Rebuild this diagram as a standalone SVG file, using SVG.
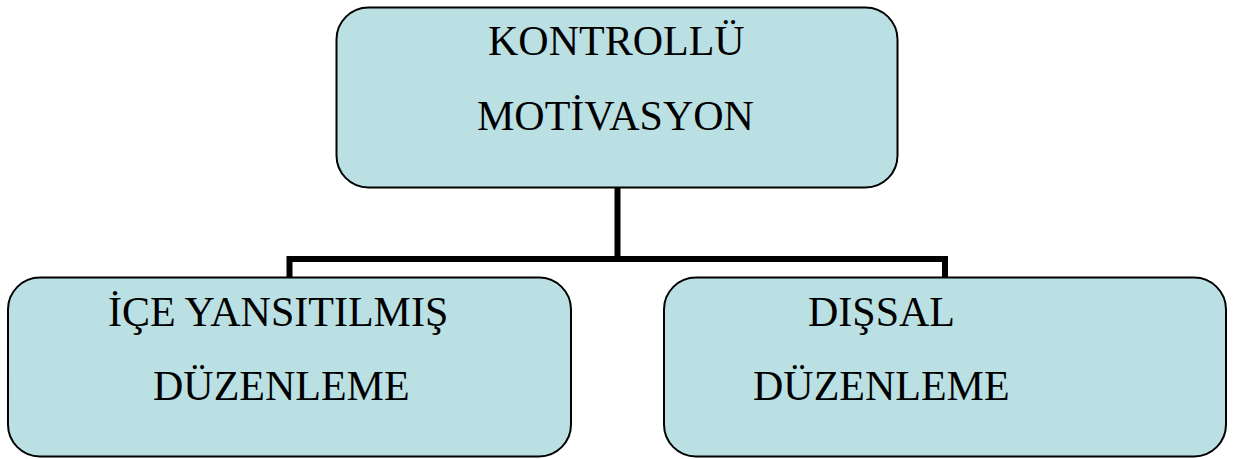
<svg xmlns="http://www.w3.org/2000/svg" width="1241" height="459" viewBox="0 0 1241 459">
<style>
.box{fill:#BBE0E3;stroke:#000;stroke-width:2}
.t{font-family:"Liberation Serif","Times New Roman",serif;font-size:42px;fill:#000}
.c{fill:none;stroke:#000;stroke-width:6}
</style>
<rect width="1241" height="459" fill="#fff"/>
<g id="connectors">
<path class="c" d="M617.5 188 V259"/>
<path class="c" d="M289.5 278 V259 H945 V278"/>
</g>
<g id="node-top">
<rect class="box" x="336.5" y="7.5" width="561" height="180" rx="32"/>
<text class="t" x="488" y="55">KONTROLLÜ</text>
<text class="t" x="477" y="130">MOTİVASYON</text>
</g>
<g id="node-left">
<rect class="box" x="8" y="277.5" width="563" height="179" rx="32"/>
<text class="t" x="108" y="326">İÇE YANSITILMIŞ</text>
<text class="t" x="153" y="400">DÜZENLEME</text>
</g>
<g id="node-right">
<rect class="box" x="664" y="277.5" width="562" height="179" rx="32"/>
<text class="t" x="808" y="326">DIŞSAL</text>
<text class="t" x="753" y="400">DÜZENLEME</text>
</g>
</svg>
